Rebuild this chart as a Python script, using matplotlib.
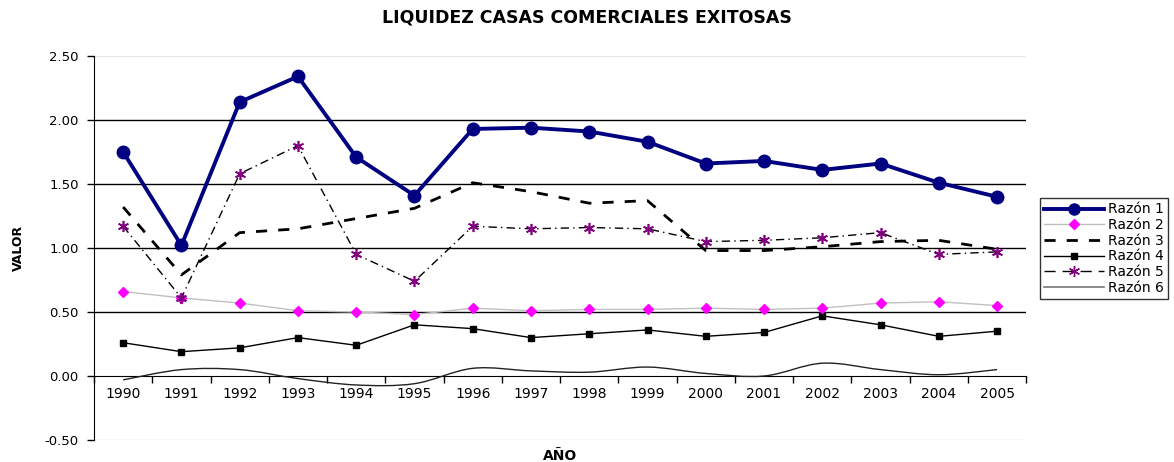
import numpy as np
import matplotlib.pyplot as plt
from matplotlib.path import Path
from matplotlib.patches import PathPatch
from matplotlib.lines import Line2D

plt.rcParams['font.family'] = ['DejaVu Sans']

years = ["1990", "1991", "1992", "1993", "1994", "1995", "1996", "1997",
         "1998", "1999", "2000", "2001", "2002", "2003", "2004", "2005"]
razon1 = [1.75, 1.02, 2.14, 2.34, 1.71, 1.41, 1.93, 1.94, 1.91, 1.83, 1.66, 1.68, 1.61, 1.66, 1.51, 1.40]
razon2 = [0.66, 0.61, 0.57, 0.51, 0.50, 0.48, 0.53, 0.51, 0.52, 0.52, 0.53, 0.52, 0.53, 0.57, 0.58, 0.55]
razon3 = [1.32, 0.79, 1.12, 1.15, 1.23, 1.31, 1.51, 1.44, 1.35, 1.37, 0.98, 0.98, 1.01, 1.05, 1.06, 0.99]
razon4 = [0.26, 0.19, 0.22, 0.30, 0.24, 0.40, 0.37, 0.30, 0.33, 0.36, 0.31, 0.34, 0.47, 0.40, 0.31, 0.35]
razon5 = [1.17, 0.61, 1.58, 1.80, 0.95, 0.74, 1.17, 1.15, 1.16, 1.15, 1.05, 1.06, 1.08, 1.12, 0.95, 0.97]
razon6 = [-0.03, 0.05, 0.05, -0.02, -0.07, -0.06, 0.06, 0.04, 0.03, 0.07, 0.02, 0.00, 0.10, 0.05, 0.01, 0.05]

x = np.arange(len(years))


def smooth_path(xs, ys, t=1 / 6):
    # excel-like smoothed line: cubic bezier through every point
    xs = np.asarray(xs, float)
    ys = np.asarray(ys, float)
    verts = [(xs[0], ys[0])]
    codes = [Path.MOVETO]
    n = len(xs)
    for i in range(n - 1):
        p0 = i - 1 if i > 0 else i
        p3 = i + 2 if i + 2 < n else i + 1
        c1 = (xs[i] + (xs[i + 1] - xs[p0]) * t, ys[i] + (ys[i + 1] - ys[p0]) * t)
        c2 = (xs[i + 1] - (xs[p3] - xs[i]) * t, ys[i + 1] - (ys[p3] - ys[i]) * t)
        verts += [c1, c2, (xs[i + 1], ys[i + 1])]
        codes += [Path.CURVE4] * 3
    return Path(verts, codes)


fig = plt.figure(figsize=(11.74, 4.62), dpi=100)
ax = fig.add_axes([0.0801, 0.0476, 0.794, 0.8312])

for yv in [0.5, 1.0, 1.5, 2.0]:
    ax.axhline(yv, color="black", lw=1, zorder=1)
ax.axhline(2.5, color="#e8e8e8", lw=1, zorder=1)
ax.axhline(-0.5, color="#d8d8d8", lw=1, zorder=1)

ax.plot(x, razon6, alpha=0)
ax.add_patch(PathPatch(smooth_path(x, razon6), fill=False, edgecolor="#222222", lw=1, zorder=3))
ax.plot(x, razon4, color="black", lw=1, marker="s", ms=5, zorder=3)
ax.plot(x, razon2, color="#c0c0c0", lw=1, marker="D", ms=5, mfc="#ff00ff", mec="#ff00ff", zorder=3)
ax.plot(x, razon3, color="black", lw=2, dashes=(4, 4), zorder=3)
ax.plot(x, razon5, color="black", lw=1, dashes=(6, 3, 1, 3), marker=(6, 2, 0), ms=8,
        mec="#800080", mfc="#800080", mew=1.2, zorder=4)
ax.plot(x, razon1, color="#000080", lw=2.8, marker="o", ms=9, mfc="#000080", mec="#000080", zorder=5)

ax.set_xlim(-0.5, len(years) - 0.5)
ax.set_ylim(-0.5, 2.5)
ax.set_yticks([-0.5, 0, 0.5, 1.0, 1.5, 2.0, 2.5])
ax.set_yticklabels(["-0.50", "0.00", "0.50", "1.00", "1.50", "2.00", "2.50"], fontsize=9.5)
ax.set_xticks(x)
ax.set_xticklabels(years, fontsize=9.5)
ax.set_xticks(np.arange(-0.5, len(years), 1), minor=True)
ax.tick_params(axis="x", which="major", length=0, pad=8)
ax.tick_params(axis="x", which="minor", length=5, width=1, direction="out")
ax.tick_params(axis="y", length=5, width=1, direction="out", pad=6)

for s in ["top", "right"]:
    ax.spines[s].set_visible(False)
ax.spines["bottom"].set_position(("data", 0))
ax.spines["bottom"].set_zorder(2)

fig.text(0.5, 0.962, "LIQUIDEZ CASAS COMERCIALES EXITOSAS", ha="center", va="center",
         fontsize=12.5, fontweight="bold")
fig.text(0.477, 0.012, "AÑO", ha="center", va="center", fontsize=10, fontweight="bold")
fig.text(0.016, 0.463, "VALOR", ha="center", va="center", rotation=90, fontsize=9,
         fontweight="bold", family=["Liberation Sans Narrow", "DejaVu Sans"])

handles = [
    Line2D([], [], color="#000080", lw=2.8, marker="o", ms=8),
    Line2D([], [], color="#c0c0c0", lw=1, marker="D", ms=5, mfc="#ff00ff", mec="#ff00ff"),
    Line2D([], [], color="black", lw=2, dashes=(4, 4)),
    Line2D([], [], color="black", lw=1, marker="s", ms=5),
    Line2D([], [], color="black", lw=1, dashes=(8, 5), marker=(6, 2, 0), ms=8,
           mec="#800080", mfc="#800080"),
    Line2D([], [], color="#777777", lw=1.2),
]
labels = ["Razón 1", "Razón 2", "Razón 3", "Razón 4", "Razón 5", "Razón 6"]
leg = fig.legend(handles, labels, loc="center left", bbox_to_anchor=(0.886, 0.462),
                 fontsize=10, frameon=True, fancybox=False, handlelength=4.3,
                 borderpad=0.3, labelspacing=0.12, handletextpad=0.3, borderaxespad=0)
leg.get_frame().set_edgecolor("black")
leg.get_frame().set_linewidth(1)

fig.savefig("out.png", dpi=100)
